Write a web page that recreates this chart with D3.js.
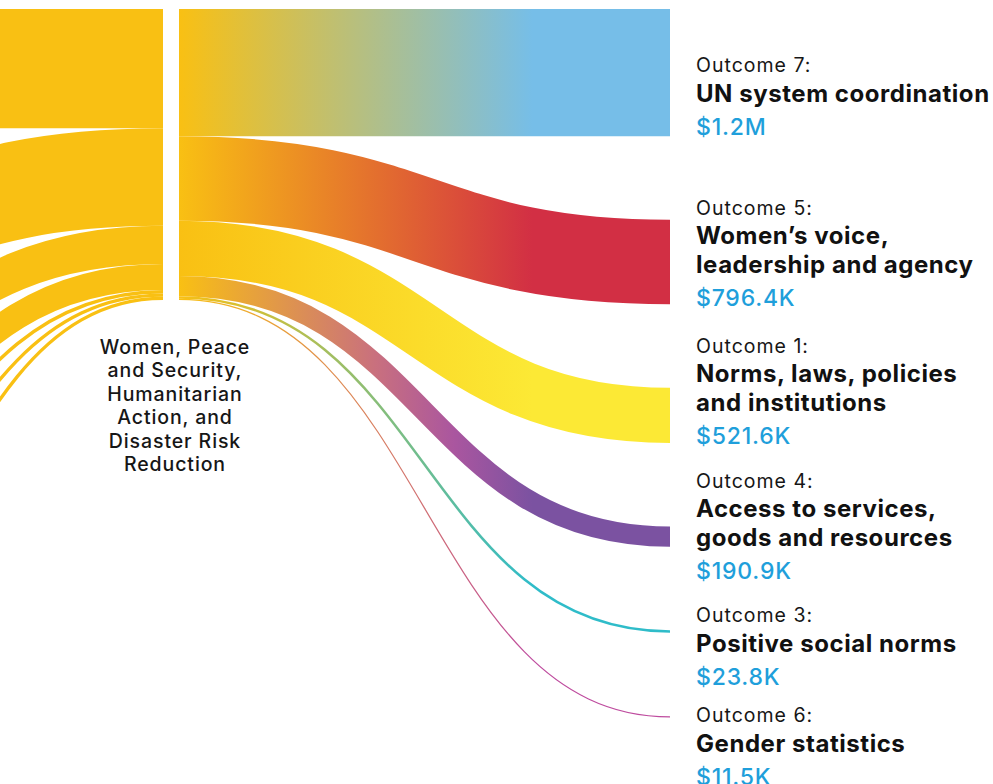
<!DOCTYPE html>
<html>
<head>
<meta charset="utf-8">
<script src="https://cdn.jsdelivr.net/npm/d3@7"></script>
<style>
  body { margin: 0; background: #fff; }
  svg { display: block; font-family: Inter, "Noto Sans", sans-serif; }
</style>
</head>
<body>
<script>
// flows coming into the hub from sources left of the canvas ($K)
var inValues = [1125, 920, 360, 245, 32, 31, 31.2];

// flows from the hub to the outcomes ($K)
var outcomeNums = [7, 5, 1, 4, 3, 6];
var outcomeTitles = [
  ["UN system coordination"],
  ["Women\u2019s voice,", "leadership and agency"],
  ["Norms, laws, policies", "and institutions"],
  ["Access to services,", "goods and resources"],
  ["Positive social norms"],
  ["Gender statistics"]
];
var outValues = [1200, 796.4, 521.6, 190.9, 23.8, 11.5];
var outColors = ["#76BEE8", "#D22F44", "#FCE935", "#7B52A1", "#2FBCC9", "#BE4B9E"];

var hubLabel = ["Women, Peace", "and Security,", "Humanitarian", "Action, and", "Disaster Risk", "Reduction"];

// layout
var width = 993, height = 784;
var topY = 9, nodePad = 83.5, nodeW = 16;
var srcColor = "#F9C013";
// label nudges (first baseline relative to node top), set by hand like the original
var labelShift = [63, -5, -35, -39, -8, 6];

var total = d3.sum(outValues);
var h = d3.scaleLinear().domain([0, total]).range([0, 291]);
var colX = d3.scaleLinear().domain([0, 2]).range([-344, 670]);

function stack(values) {
  var y = topY;
  return values.map(function(v, i) {
    var n = {i: i, value: v, y0: y, y1: y + h(v)};
    y = n.y1 + nodePad;
    return n;
  });
}

var srcNodes = stack(inValues);
var outNodes = stack(outValues);
var hub = {x0: colX(1), x1: colX(1) + nodeW, y0: topY, y1: topY + h(total)};

// links
var yIn = hub.y0, yOut = hub.y0;
var inLinks = srcNodes.map(function(n) {
  var w = n.y1 - n.y0;
  var l = {w: w, sx: colX(0) + nodeW, sy: (n.y0 + n.y1) / 2, tx: hub.x0, ty: yIn + w / 2};
  yIn += w;
  return l;
});
var outLinks = outNodes.map(function(n, i) {
  var w = n.y1 - n.y0;
  var l = {i: i, w: w, sx: hub.x1, sy: yOut + w / 2, tx: colX(2), ty: (n.y0 + n.y1) / 2};
  yOut += w;
  return l;
});

var link = d3.linkHorizontal()
  .source(function(d) { return [d.sx, d.sy]; })
  .target(function(d) { return [d.tx, d.ty]; });

var svg = d3.select("body").append("svg")
  .attr("width", width)
  .attr("height", height);

// gradients for outgoing flows
var defs = svg.append("defs");
var midStops = {3: [[0.4, "#C9707E"], [0.56, "#AA569F"]]};
outLinks.forEach(function(l, i) {
  var g = defs.append("linearGradient")
    .attr("id", "grad" + i)
    .attr("gradientUnits", "userSpaceOnUse")
    .attr("x1", l.sx).attr("x2", l.tx)
    .attr("y1", 0).attr("y2", 0);
  var stops = [[0, srcColor]].concat(midStops[i] || [], [[0.72, outColors[i]]]);
  stops.forEach(function(s) {
    g.append("stop").attr("offset", s[0]).attr("stop-color", s[1]);
  });
});

svg.append("g")
  .selectAll("path")
  .data(inLinks)
  .join("path")
    .attr("d", link)
    .attr("fill", "none")
    .attr("stroke", srcColor)
    .attr("stroke-width", function(d) { return d.w; });

svg.append("g")
  .selectAll("path")
  .data(outLinks)
  .join("path")
    .attr("d", link)
    .attr("fill", "none")
    .attr("stroke", function(d) { return "url(#grad" + d.i + ")"; })
    .attr("stroke-width", function(d) { return d.w; });

// hub node
svg.append("rect")
  .attr("x", hub.x0).attr("y", hub.y0)
  .attr("width", nodeW).attr("height", hub.y1 - hub.y0)
  .attr("fill", "#fff");

svg.append("text")
  .attr("text-anchor", "middle")
  .attr("font-size", 19.5)
  .attr("font-weight", 500)
  .attr("letter-spacing", 0.9)
  .attr("fill", "#161616")
  .selectAll("tspan")
  .data(hubLabel)
  .join("tspan")
    .attr("x", (hub.x0 + hub.x1) / 2 + 4)
    .attr("y", function(d, i) { return 354 + i * 23.4; })
    .text(function(d) { return d; });

// outcome labels
function fmt(v) {
  return v >= 1000 ? "$" + (v / 1000).toFixed(1) + "M" : "$" + v.toFixed(1) + "K";
}
var lx = colX(2) + nodeW + 10;
outNodes.forEach(function(n, i) {
  var y = n.y0 + labelShift[i];
  var g = svg.append("g");
  g.append("text")
    .attr("x", lx).attr("y", y)
    .attr("font-size", 19.5)
    .attr("letter-spacing", 1)
    .attr("fill", "#161616")
    .text("Outcome " + outcomeNums[i] + ":");
  y += 29.5;
  outcomeTitles[i].forEach(function(t) {
    g.append("text")
      .attr("x", lx).attr("y", y)
      .attr("font-size", 24)
      .attr("font-weight", 700)
      .attr("letter-spacing", 0.55)
      .attr("fill", "#111")
      .text(t);
    y += 29;
  });
  g.append("text")
    .attr("x", lx).attr("y", y + 4)
    .attr("font-size", 23)
    .attr("font-weight", 500)
    .attr("letter-spacing", 0.8)
    .attr("fill", "#1F9FDB")
    .text(fmt(outValues[i]));
});
</script>
</body>
</html>
